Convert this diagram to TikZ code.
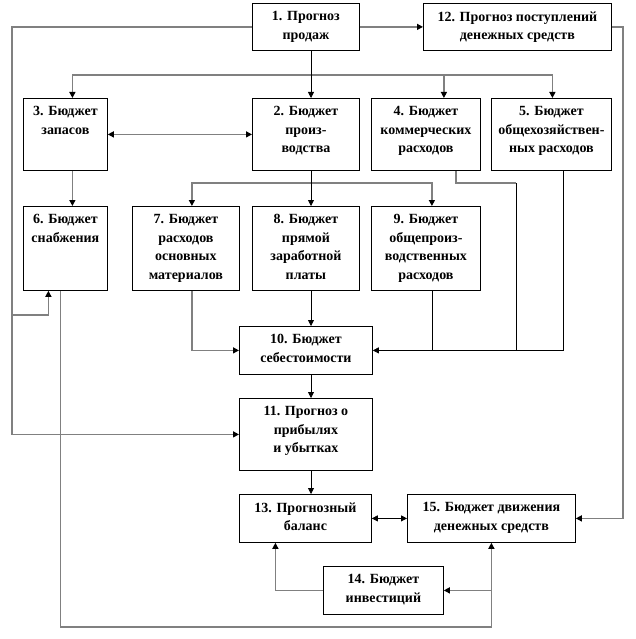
\documentclass[tikz,border=0pt]{standalone}
\usepackage{fontspec}
\setmainfont{Liberation Serif}
\usetikzlibrary{arrows.meta}
\newcommand{\bx}[3]{\parbox[c][#2][t]{#1}{\centering\vspace*{8pt}#3}}
\tikzset{
  blk/.style={draw, line width=0.8pt, inner sep=0pt, anchor=north west,
    font=\fontsize{14}{18.5}\selectfont\bfseries},
  gl/.style={draw=gray, line width=1.3pt},
  bl/.style={draw=black, line width=0.8pt}
}
\begin{document}
\begin{tikzpicture}[x=1pt, y=-1pt, >={Triangle[length=6pt,width=6pt,color=black]}]
\useasboundingbox (0,0) rectangle (636,639);
% блоки
\node[blk] (prod) at (252,3) {\bx{107pt}{47pt}{1. Прогноз\\продаж}};
\node[blk] (post) at (423,3) {\bx{188pt}{47pt}{12. Прогноз поступлений\\денежных средств}};
\node[blk] (zap) at (23,98) {\bx{84pt}{72pt}{3. Бюджет\\запасов}};
\node[blk] (proizv) at (252,98) {\bx{107pt}{72pt}{2. Бюджет\\произ-\\водства}};
\node[blk] (komm) at (371,98) {\bx{109pt}{72pt}{4. Бюджет\\коммерческих\\расходов}};
\node[blk] (obsh) at (491,98) {\bx{120pt}{72pt}{5. Бюджет\\общехозяйствен-\\ных расходов}};
\node[blk] (snab) at (23,206) {\bx{84pt}{84pt}{6. Бюджет\\снабжения}};
\node[blk] (mat) at (132,206) {\bx{107pt}{84pt}{7. Бюджет\\расходов\\основных\\материалов}};
\node[blk] (zarp) at (252,206) {\bx{107pt}{84pt}{8. Бюджет\\прямой\\заработной\\платы}};
\node[blk] (opr) at (371,206) {\bx{109pt}{84pt}{9. Бюджет\\общепроиз-\\водственных\\расходов}};
\node[blk] (seb) at (239,326) {\bx{133pt}{48pt}{10. Бюджет\\себестоимости}};
\node[blk] (prib) at (239,398) {\bx{133pt}{72pt}{11. Прогноз о\\прибылях\\и убытках}};
\node[blk] (bal) at (239,494) {\bx{132pt}{48pt}{13. Прогнозный\\баланс}};
\node[blk] (dds) at (407,494) {\bx{168pt}{48pt}{15. Бюджет движения\\денежных средств}};
\node[blk] (inv) at (323,566) {\bx{120pt}{48pt}{14. Бюджет\\инвестиций}};
% точки для линий
\coordinate (sp) at (311,0);
\coordinate (ya) at (0,75);
\coordinate (yb) at (0,183);
\coordinate (yd) at (0,627);
\coordinate (lft) at (12,315);
\coordinate (rgt) at (623,300);
\coordinate (kc) at (516,183);
% серые связи
\draw[gl,->] (prod.west) -| (lft) |- (prib.west);
\draw[gl,->] (lft) -| ([xshift=-17pt]snab.south);
\draw[gl,->] (prod) -- (post);
\draw[gl,->] (post.east) -| (rgt) |- (dds.east);
\draw[gl,->] (ya -| sp) -| ([xshift=7pt]zap.north);
\draw[gl,->] (ya -| sp) -| ([xshift=18pt]komm.north);
\draw[gl,->] (ya -| sp) -| ([xshift=1pt]obsh.north);
\draw[gl,<->] (zap) -- (proizv);
\draw[gl,->] ([xshift=7pt]zap.south) -- ([xshift=7pt]snab.north);
\draw[gl,->] (yb -| sp) -| ([xshift=6pt]mat.north);
\draw[gl,->] (yb -| sp) -| ([xshift=6pt]opr.north);
\draw[gl,->] ([xshift=6pt]mat.south) |- (seb.west);
\draw[gl] ([xshift=30pt]komm.south) |- (kc);
\draw[gl,->] ([xshift=-5pt]snab.south) |- (yd -| dds.south) -- (dds.south);
\draw[gl,->] (dds.south |- inv.east) -- (inv.east);
\draw[gl,->] (inv.west) -| ([xshift=-30pt]bal.south);
% черные связи
\draw[bl,->] (prod.south -| sp) -- (proizv.north -| sp);
\draw[bl,->] (proizv.south -| sp) -- (zarp.north -| sp);
\draw[bl,->] (zarp.south -| sp) -- (seb.north -| sp);
\draw[bl,->] (seb.south -| sp) -- (prib.north -| sp);
\draw[bl,->] (prib.south -| sp) -- (bal.north -| sp);
\draw[bl] ([xshift=6pt]opr.south) -- ++(0,60);
\draw[bl] (kc) -- ++(0,167);
\draw[bl,->] ([xshift=12pt]obsh.south) |- (seb.east);
\draw[bl,<->] (bal) -- (dds);
\end{tikzpicture}
\end{document}
